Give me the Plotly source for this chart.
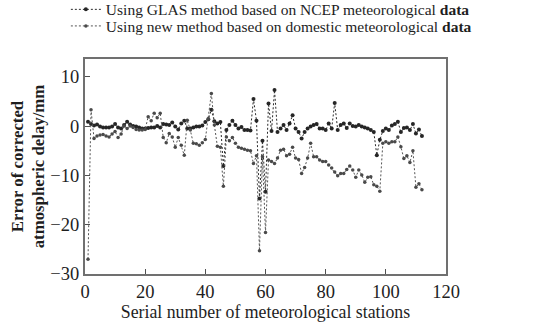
import plotly.graph_objects as go

stations = list(range(1, 113))

glas_ncep = [
    0.9, 0.4, 0.1, 0.3, -0.1, -0.3, -0.3, -0.3, -0.1, 0.4,
    -0.3, -0.5, 0.2, 0.9, 0.3, 0.0, -0.1, -0.3, -0.5, -0.5,
    -0.4, -0.3, -0.3, 0.0, -0.3, 0.4, 0.3, 0.2, 0.7, -0.1,
    -0.7, 0.5, 1.1, -0.5, -0.5, -0.3, -0.1, -0.1, 0.1, 0.8,
    1.4, 3.3, 1.0, 0.5, 0.8, -8.1, -0.8, 0.2, 1.1, 0.2,
    -0.5, -0.2, -0.8, -0.8, -0.9, 5.5, 1.1, -14.7, -3.0, -13.3,
    4.6, -1.0, 7.3, -1.2, -0.5, 0.2, -0.8, 0.5, 2.2, -0.5,
    -1.2, -2.5, -1.2, -0.5, -0.1, 0.2, 0.4, -0.5, -0.5, -0.8,
    0.5, -0.5, 4.7, -0.8, 0.2, 0.5, -0.4, 0.5, 0.0, -0.1,
    0.2, -0.1, -0.3, -0.5, -0.8, -1.2, -5.9, -2.8, -1.0, -0.5,
    -0.8, 0.1, 0.4, 0.9, -1.2, -0.4, -0.3, -0.8, 0.4, -1.5,
    -0.7, -2.0,
]

new_domestic = [
    -27.0, 3.3, -2.5, -2.0, -1.8, -1.7, -2.0, -2.2, -1.6, -1.1,
    -2.3, -1.6, 0.0, -0.5, 0.0, -0.3, -0.7, -0.8, -0.8, -0.7,
    1.9, 1.1, 2.6, 1.7, 2.6, -2.3, -3.4, -1.5, -2.2, -4.3,
    -2.3, -3.9, -5.9, 1.2, -0.8, -3.5, -3.6, -3.9, -3.4, -2.7,
    1.5, 6.6, 0.2, -4.1, -4.3, -12.2, -2.2, -3.0, -2.3, -3.5,
    -4.3, -4.5, -4.7, -4.9, -5.0, -7.6, -6.0, -25.3, -6.2, -21.6,
    -6.9, -7.2, -7.6, -6.5, -4.9, -4.7, -6.0, -5.7, -4.3, -6.5,
    -6.8, -9.6, -8.4, -6.5, -3.5, -6.2, -6.2, -6.9, -7.2, -7.2,
    -7.9, -8.5, -9.3, -10.1, -9.6, -9.6, -8.8, -8.1, -8.9, -10.4,
    -8.9, -9.9, -11.4, -10.4, -10.3, -11.9, -12.2, -13.2, -3.5, -3.2,
    -3.5, -3.2, -3.2, -2.2, -4.2, -6.6, -6.0, -7.4, -5.0, -12.4,
    -11.7, -12.9,
]

x_ticks = [0, 20, 40, 60, 80, 100, 120]
y_ticks = [-30, -20, -10, 0, 10]

serif = "Liberation Serif, Times New Roman, serif"
ink = "#1e1e1e"

fig = go.Figure()
fig.add_trace(go.Scatter(
    x=stations, y=glas_ncep, mode="lines+markers",
    name="Using GLAS method based on NCEP meteorological <b>data</b>",
    line=dict(color="#2a2a2a", width=1, dash="2px,2px"),
    marker=dict(symbol="circle", size=4, color="#262626"),
    legend="legend",
))
fig.add_trace(go.Scatter(
    x=stations, y=new_domestic, mode="lines+markers",
    name="Using new method based on domestic meteorological <b>data</b>",
    line=dict(color="#555555", width=1, dash="2px,2px"),
    marker=dict(symbol="circle", size=3.5, color="#4a4a4a"),
    legend="legend2",
))

axis_common = dict(
    showline=True, linecolor="#707070", linewidth=2, mirror=True,
    ticks="inside", ticklen=5, tickcolor="#505050", tickwidth=1.2,
    showgrid=False, zeroline=False,
    tickfont=dict(family=serif, size=18.5, color=ink),
)

legend_common = dict(
    xanchor="left", yanchor="top",
    font=dict(family=serif, size=15.5, color=ink),
    itemwidth=30, bgcolor="rgba(0,0,0,0)", borderwidth=0,
)

fig.update_layout(
    width=558, height=324,
    margin=dict(l=85, r=112, t=59, b=50, autoexpand=False),
    paper_bgcolor="white", plot_bgcolor="white",
    font=dict(family=serif, color=ink),
    showlegend=True,
    legend=dict(x=-0.053, y=1.308, **legend_common),
    legend2=dict(x=-0.053, y=1.231, **legend_common),
    xaxis=dict(
        range=[0, 120], tickvals=x_ticks, **axis_common,
        title=dict(text="Serial number of meteorological stations",
                   font=dict(family=serif, size=17.8, color=ink), standoff=3),
    ),
    yaxis=dict(
        range=[-30, 13.6], tickvals=y_ticks, **axis_common,
        title=dict(text="<b>Error of corrected<br>atmospheric delay/mm</b>",
                   font=dict(family=serif, size=16.8, color=ink), standoff=1),
    ),
)

fig.write_html("out.html", config={"displayModeBar": False},
               post_script="document.body.style.margin='0px';")
